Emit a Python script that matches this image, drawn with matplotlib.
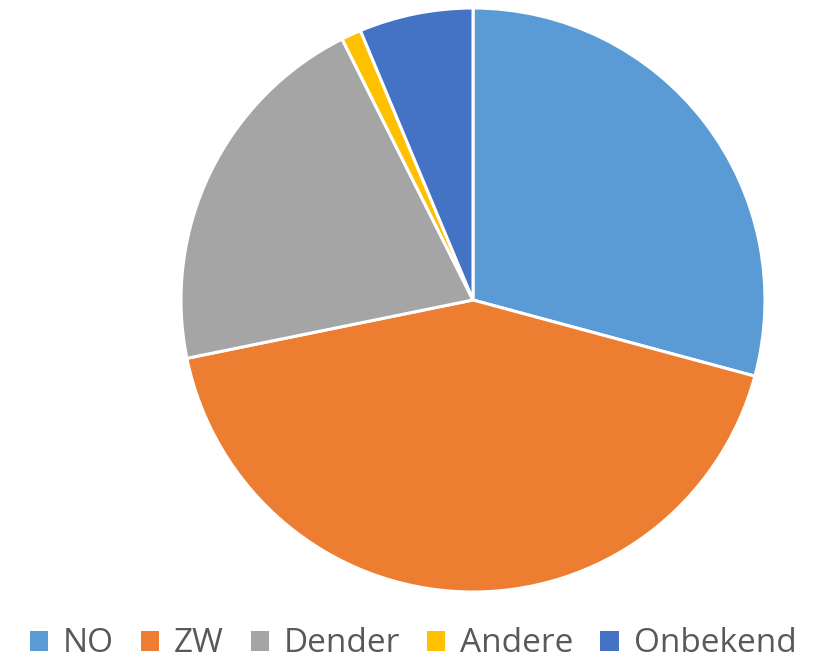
import matplotlib
matplotlib.use("Agg")
import matplotlib.pyplot as plt
from matplotlib.patches import Patch

labels = ["NO", "ZW", "Dender", "Andere", "Onbekend"]
values = [29.2, 42.6, 20.8, 1.1, 6.3]
colors = ["#5B9BD5", "#ED7D31", "#A5A5A5", "#FFC000", "#4472C4"]

plt.rcParams['font.family'] = ['Open Sans', 'DejaVu Sans']

fig = plt.figure(figsize=(8.13, 6.62), dpi=100)
W, H = 813, 662
cx, cy, r = 473, 300, 292
ax = fig.add_axes([(cx - r) / W, (H - cy - r) / H, 2 * r / W, 2 * r / H])
ax.pie(values, colors=colors, startangle=90, counterclock=False,
       wedgeprops=dict(edgecolor="white", linewidth=2.2))
ax.set_xlim(-1, 1)
ax.set_ylim(-1, 1)
ax.set_aspect("equal")
ax.axis("off")

handles = [Patch(facecolor=c, edgecolor="none") for c in colors]
fig.legend(handles, labels, loc="center", bbox_to_anchor=(413 / W, 1 - 644 / H),
           ncol=5, frameon=False, fontsize=24, labelcolor="#595959",
           handlelength=0.55, handleheight=0.55, handletextpad=0.45,
           columnspacing=0.8, borderpad=0)

fig.savefig("out.png", dpi=100)
